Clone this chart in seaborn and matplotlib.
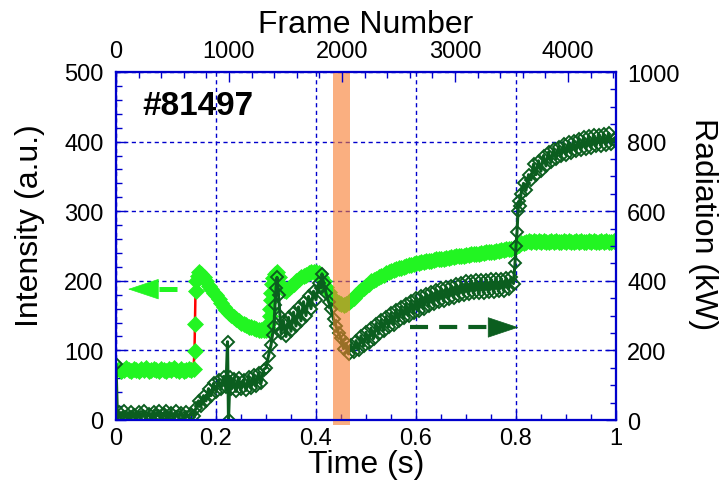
import matplotlib
matplotlib.use("Agg")
import matplotlib.pyplot as plt
from matplotlib.ticker import MultipleLocator, FuncFormatter
import seaborn as sns
import pandas as pd

# ---------------- data ----------------
# Intensity (a.u.), left axis, bright green
t_int = [0.000, 0.005, 0.010, 0.015, 0.020, 0.025, 0.030, 0.035, 0.040, 0.045,
         0.050, 0.055, 0.060, 0.065, 0.070, 0.075, 0.080, 0.085, 0.090, 0.095,
         0.100, 0.105, 0.110, 0.115, 0.120, 0.125, 0.130, 0.135, 0.140, 0.145,
         0.150, 0.155, 0.157, 0.158, 0.159, 0.160, 0.163, 0.166, 0.170, 0.175,
         0.180, 0.185, 0.190, 0.195, 0.200, 0.205, 0.210, 0.215, 0.220, 0.225,
         0.230, 0.235, 0.240, 0.245, 0.250, 0.255, 0.260, 0.265, 0.270, 0.275,
         0.280, 0.285, 0.290, 0.295, 0.300, 0.305, 0.306, 0.307, 0.308, 0.309,
         0.310, 0.312, 0.314, 0.317, 0.321, 0.325, 0.330, 0.335, 0.340, 0.345,
         0.350, 0.355, 0.360, 0.365, 0.370, 0.375, 0.380, 0.385, 0.390, 0.395,
         0.400, 0.405, 0.410, 0.415, 0.420, 0.425, 0.430, 0.435, 0.440, 0.445,
         0.450, 0.455, 0.460, 0.465, 0.470, 0.475, 0.480, 0.485, 0.490, 0.495,
         0.500, 0.505, 0.510, 0.515, 0.520, 0.525, 0.530, 0.535, 0.540, 0.545,
         0.550, 0.555, 0.560, 0.565, 0.570, 0.575, 0.580, 0.585, 0.590, 0.595,
         0.600, 0.605, 0.610, 0.615, 0.620, 0.625, 0.630, 0.635, 0.640, 0.645,
         0.650, 0.655, 0.660, 0.665, 0.670, 0.675, 0.680, 0.685, 0.690, 0.695,
         0.700, 0.705, 0.710, 0.715, 0.720, 0.725, 0.730, 0.735, 0.740, 0.745,
         0.750, 0.755, 0.760, 0.765, 0.770, 0.775, 0.780, 0.785, 0.790, 0.795,
         0.800, 0.805, 0.810, 0.815, 0.820, 0.825, 0.830, 0.835, 0.840, 0.845,
         0.850, 0.855, 0.860, 0.865, 0.870, 0.875, 0.880, 0.885, 0.890, 0.895,
         0.900, 0.905, 0.910, 0.915, 0.920, 0.925, 0.930, 0.935, 0.940, 0.945,
         0.950, 0.955, 0.960, 0.965, 0.970, 0.975, 0.980, 0.985, 0.990, 0.995,
         1.000]
intensity = [72, 73, 71, 72, 74, 72, 71, 73, 72, 71,
             73, 72, 74, 71, 72, 73, 72, 71, 73, 72,
             71, 73, 72, 74, 72, 71, 73, 71, 72, 73,
             72, 73, 99, 138, 185, 200, 207, 212, 210, 205,
             199, 193, 188, 183, 179, 174, 168, 163, 158, 154,
             151, 148, 145, 142, 140, 138, 136, 134, 133, 132,
             131, 130, 129, 129, 129, 131, 140, 150, 160, 172,
             182, 195, 204, 210, 212, 205, 194, 187, 186, 189,
             193, 196, 199, 202, 205, 207, 209, 211, 212, 213,
             213, 211, 206, 199, 191, 184, 178, 173, 170, 168,
             166, 165, 166, 169, 172, 176, 180, 184, 187, 190,
             193, 196, 199, 201, 203, 205, 207, 209, 211, 213,
             214, 216, 217, 218, 219, 220, 221, 222, 223, 224,
             225, 226, 227, 227, 228, 229, 229, 230, 231, 231,
             232, 232, 233, 233, 234, 234, 235, 235, 236, 236,
             237, 237, 238, 238, 239, 239, 240, 240, 241, 241,
             242, 242, 243, 243, 244, 244, 245, 245, 246, 247,
             249, 252, 254, 255, 256, 257, 256, 257, 256, 257,
             256, 257, 256, 256, 257, 256, 257, 256, 256, 257,
             256, 257, 256, 256, 257, 256, 257, 256, 256, 257,
             256, 257, 256, 256, 257, 256, 257, 256, 256, 257,
             256]

# Radiation (kW), right axis, dark green
t_rad = [0.000, 0.003, 0.005, 0.010, 0.015, 0.020, 0.025, 0.030, 0.035, 0.040,
         0.045, 0.050, 0.055, 0.060, 0.065, 0.070, 0.075, 0.080, 0.085, 0.090,
         0.095, 0.100, 0.105, 0.110, 0.115, 0.120, 0.125, 0.130, 0.135, 0.140,
         0.145, 0.150, 0.155, 0.160, 0.165, 0.170, 0.175, 0.180, 0.185, 0.190,
         0.195, 0.200, 0.205, 0.210, 0.215, 0.220, 0.223, 0.225, 0.228, 0.230,
         0.235, 0.240, 0.245, 0.250, 0.255, 0.260, 0.265, 0.270, 0.275, 0.280,
         0.285, 0.290, 0.295, 0.300, 0.305, 0.310, 0.313, 0.316, 0.318, 0.320,
         0.322, 0.325, 0.328, 0.330, 0.335, 0.340, 0.345, 0.350, 0.355, 0.360,
         0.365, 0.370, 0.375, 0.380, 0.385, 0.390, 0.395, 0.400, 0.405, 0.410,
         0.412, 0.415, 0.420, 0.425, 0.430, 0.435, 0.440, 0.445, 0.450, 0.455,
         0.460, 0.465, 0.470, 0.475, 0.480, 0.485, 0.490, 0.495, 0.500, 0.505,
         0.510, 0.515, 0.520, 0.525, 0.530, 0.535, 0.540, 0.545, 0.550, 0.555,
         0.560, 0.565, 0.570, 0.575, 0.580, 0.585, 0.590, 0.595, 0.600, 0.605,
         0.610, 0.615, 0.620, 0.625, 0.630, 0.635, 0.640, 0.645, 0.650, 0.655,
         0.660, 0.665, 0.670, 0.675, 0.680, 0.685, 0.690, 0.695, 0.700, 0.705,
         0.710, 0.715, 0.720, 0.725, 0.730, 0.735, 0.740, 0.745, 0.750, 0.755,
         0.760, 0.765, 0.770, 0.775, 0.780, 0.785, 0.790, 0.795, 0.798, 0.800,
         0.802, 0.804, 0.806, 0.808, 0.810, 0.815, 0.820, 0.825, 0.830, 0.835,
         0.840, 0.845, 0.850, 0.855, 0.860, 0.865, 0.870, 0.875, 0.880, 0.885,
         0.890, 0.895, 0.900, 0.905, 0.910, 0.915, 0.920, 0.925, 0.930, 0.935,
         0.940, 0.945, 0.950, 0.955, 0.960, 0.965, 0.970, 0.975, 0.980, 0.985,
         0.990, 0.995, 1.000]
radiation = [160, 5, 22, 6, 25, 10, 4, 24, 14, 5,
             22, 8, 26, 6, 18, 4, 24, 12, 27, 5,
             16, 26, 7, 21, 4, 25, 10, 20, 5, 24,
             8, 18, 12, 35, 55, 40, 70, 55, 90, 70,
             105, 80, 115, 90, 125, 95, 225, 0, 125, 90,
             118, 82, 122, 88, 115, 85, 125, 92, 128, 98,
             135, 105, 145, 150, 185, 215, 245, 270, 330, 380,
             410, 360, 300, 250, 285, 240, 295, 255, 310, 270,
             325, 285, 340, 300, 355, 320, 370, 345, 395, 380,
             420, 395, 365, 340, 320, 290, 270, 250, 235, 205,
             220, 190, 215, 195, 228, 202, 242, 212, 252, 222,
             264, 234, 277, 247, 287, 257, 297, 267, 307, 274,
             317, 284, 324, 292, 334, 300, 342, 307, 350, 314,
             357, 320, 362, 327, 368, 332, 374, 338, 378, 342,
             382, 348, 386, 352, 390, 356, 394, 360, 398, 362,
             400, 364, 401, 365, 402, 366, 403, 367, 404, 368,
             405, 370, 406, 372, 408, 376, 410, 392, 450, 500,
             540, 600, 630, 615, 650, 680, 660, 705, 690, 735,
             705, 745, 715, 760, 730, 770, 740, 778, 750, 785,
             758, 792, 762, 798, 768, 803, 772, 808, 776, 812,
             780, 815, 783, 818, 786, 820, 788, 822, 790, 824,
             792, 808, 800]

x_ticks = [0, 0.2, 0.4, 0.6, 0.8, 1.0]
frame_max = 4425
shot_label = "#81497"
highlight = (0.433, 0.467)

# ---------------- style ----------------
sns.set_theme(style="white")
plt.rcParams["font.family"] = ["Liberation Sans", "DejaVu Sans"]
plt.rcParams["lines.scale_dashes"] = False
plt.rcParams["text.color"] = "black"
plt.rcParams["axes.labelcolor"] = "black"

LIGHT = "#22F522"
DARK = "#0B5E1F"
BLUE = "#0000CC"
ORANGE = "#F77B2B"

fig = plt.figure(figsize=(7.22, 4.85), dpi=100)
ax = fig.add_axes([116 / 722, 1 - 421 / 485, 500 / 722, 348 / 485])
ax.set_facecolor("white")
ax2 = ax.twinx()
ax3 = ax.twiny()
for a in (ax2, ax3):
    a.patch.set_visible(False)

df_int = pd.DataFrame({"t": t_int, "v": intensity})
df_rad = pd.DataFrame({"t": t_rad, "v": radiation})

sns.lineplot(data=df_int, x="t", y="v", ax=ax, sort=False, estimator=None,
             color="red", lw=1.8, marker="D", markersize=8.6,
             markerfacecolor=LIGHT, markeredgecolor=LIGHT, markeredgewidth=0.5)
sns.lineplot(data=df_rad, x="t", y="v", ax=ax2, sort=False, estimator=None,
             color=DARK, lw=2.2, marker="D", markersize=6.5,
             markerfacecolor="none", markeredgecolor=DARK, markeredgewidth=1.4)

# limits
ax.set_xlim(0, 1)
ax.set_ylim(0, 500)
ax2.set_ylim(0, 1000)
ax3.set_xlim(0, frame_max)

# ticks
ax.xaxis.set_major_locator(plt.FixedLocator(x_ticks))
ax.xaxis.set_minor_locator(MultipleLocator(0.05))
ax.yaxis.set_major_locator(MultipleLocator(100))
ax.yaxis.set_minor_locator(MultipleLocator(20))
ax2.yaxis.set_major_locator(MultipleLocator(200))
ax2.yaxis.set_minor_locator(MultipleLocator(50))
ax3.xaxis.set_major_locator(MultipleLocator(1000))
ax3.xaxis.set_minor_locator(MultipleLocator(200))
ax.xaxis.set_major_formatter(FuncFormatter(lambda v, p: f"{v:g}"))

for a in (ax, ax2, ax3):
    a.tick_params(which="both", direction="in", color=BLUE, width=1,
                  labelcolor="black", labelsize=17)
    a.tick_params(which="major", length=7)
    a.tick_params(which="minor", length=4)
    for s in a.spines.values():
        s.set_color(BLUE)
        s.set_linewidth(1.5)
ax.tick_params(axis="x", which="both", top=False, bottom=True, pad=5)
ax.tick_params(axis="y", which="both", left=True, right=False, pad=9)
ax2.tick_params(axis="y", which="both", right=True, left=False, pad=8)
ax3.tick_params(axis="x", which="both", top=True, bottom=False, pad=7)

ax.grid(True, which="major", color=BLUE, ls=(0, (3, 2.5)), lw=1)
ax.set_axisbelow(True)

ax.set_xlabel("Time (s)", fontsize=23, labelpad=0)
ax.set_ylabel("Intensity (a.u.)", fontsize=23, labelpad=14, y=0.56)
ax2.set_ylabel("Radiation (kW)", fontsize=23, rotation=-90, va="bottom",
               labelpad=6, y=0.566)
ax3.set_xlabel("Frame Number", fontsize=23, labelpad=6)

# highlight band
ax2.axvspan(highlight[0], highlight[1], ymin=-0.014, ymax=1, color=ORANGE,
            alpha=0.6, lw=0, zorder=10, clip_on=False)

# shot number
ax.text(0.052, 0.879, shot_label, transform=ax.transAxes, fontsize=24,
        fontweight="bold", va="baseline", ha="left", color="black")

# arrows
ax.plot([0.122, 0.081], [188, 188], color=LIGHT, lw=3.6, ls=(0, (13, 8)),
        dash_capstyle="butt")
ax.annotate("", xy=(0.024, 188), xytext=(0.081, 188),
            arrowprops=dict(arrowstyle="-|>,head_length=1.5,head_width=0.5",
                            mutation_scale=14, color=LIGHT, lw=0.5,
                            shrinkA=0, shrinkB=0))
ax2.plot([0.588, 0.747], [266, 266], color=DARK, lw=3.0, ls=(0, (13, 8)),
         dash_capstyle="butt")
ax2.annotate("", xy=(0.805, 266), xytext=(0.747, 266),
             arrowprops=dict(arrowstyle="-|>,head_length=1.5,head_width=0.5",
                             mutation_scale=14, color=DARK, lw=0.5,
                             shrinkA=0, shrinkB=0))

fig.savefig("out.png", dpi=100)
